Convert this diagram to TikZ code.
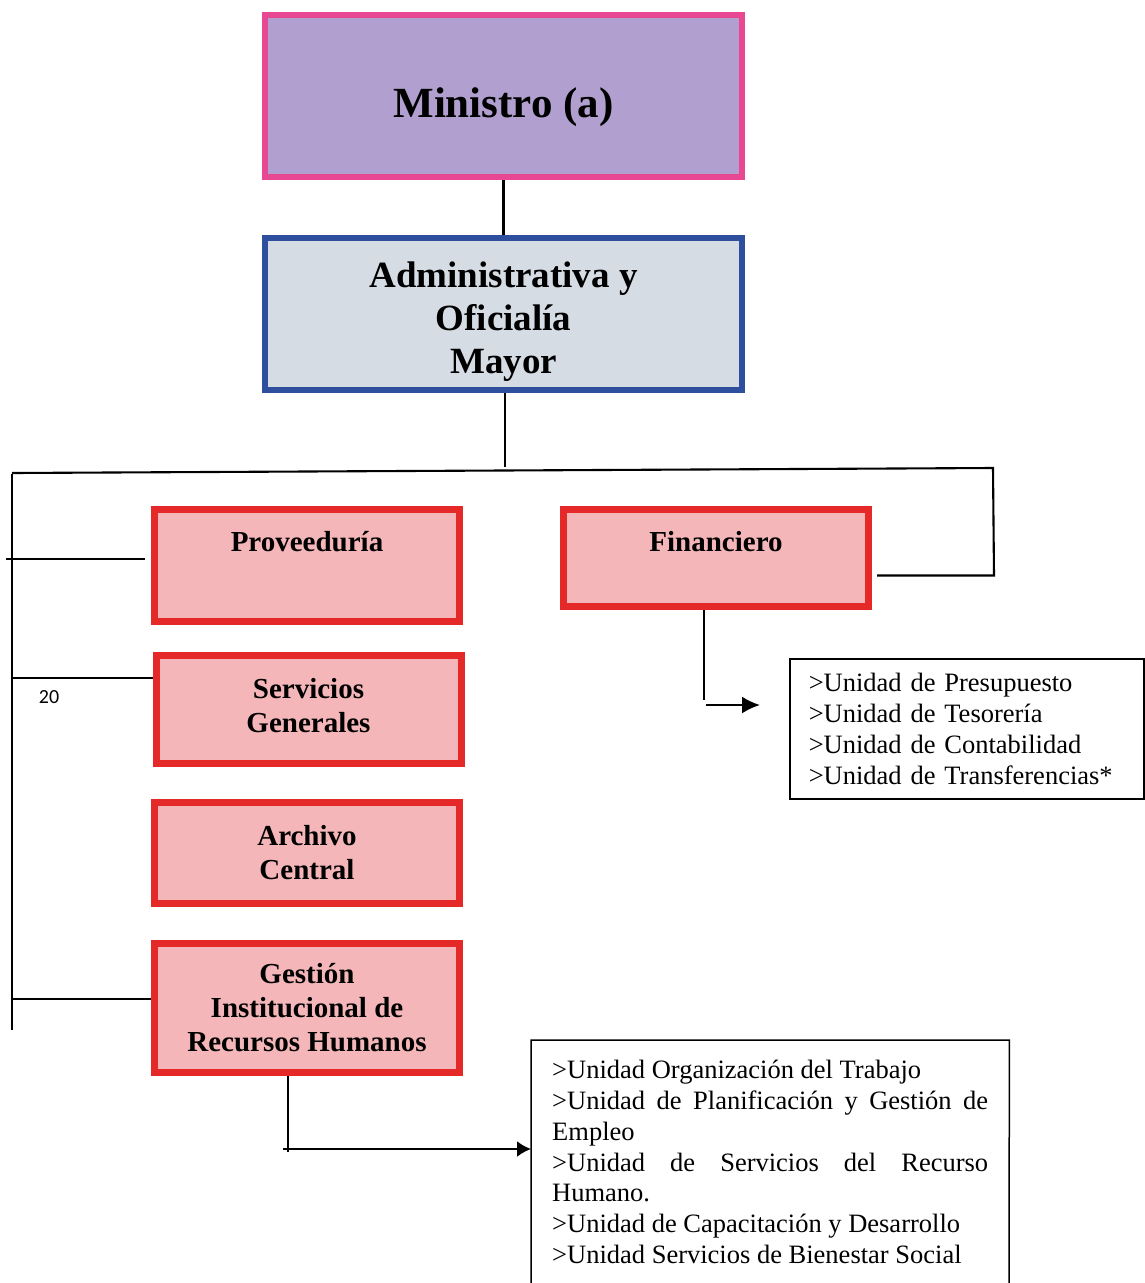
\documentclass[tikz,border=0pt]{standalone}
\usepackage{fontspec}
\setmainfont{Liberation Serif}
\newfontfamily\numfont{Carlito}
\usetikzlibrary{arrows.meta}
\definecolor{minfill}{RGB}{177,160,207}
\definecolor{minedge}{RGB}{232,72,146}
\definecolor{admfill}{RGB}{214,220,228}
\definecolor{admedge}{RGB}{46,78,158}
\definecolor{unitfill}{RGB}{244,182,184}
\definecolor{unitedge}{RGB}{229,41,41}

\begin{document}
\begin{tikzpicture}[x=1pt,y=-1pt,
  unitbox/.style={draw=unitedge, fill=unitfill, line width=7pt, inner sep=0pt, minimum width=305pt, align=center, font=\fontsize{29}{34}\selectfont\bfseries},
  listbox/.style={inner xsep=20pt, align=left, font=\fontsize{26.5}{31}\selectfont},
  link/.style={line width=2.1pt}]
  \useasboundingbox (0,0) rectangle (1144,1283);
  % head boxes
  \node[draw=minedge, fill=minfill, line width=6pt, inner sep=0pt, minimum width=477pt, text height=102.5pt, text depth=59.5pt, font=\fontsize{43}{49}\selectfont\bfseries] (min) at (503.5,96) {Ministro (a)};
  \node[draw=admedge, fill=admfill, line width=6pt, minimum width=477pt, minimum height=152pt, align=center, font=\fontsize{37}{43}\selectfont\bfseries] (adm) at (503.5,314) {\rule{0pt}{40pt}Administrativa y\\Oficialía\\Mayor};
  \draw[link] (min) -- (adm);
  % units
  \node[unitbox, text height=41.5pt, text depth=70.5pt] (prov) at (307,565.5) {Proveeduría};
  \node[unitbox, text height=41.5pt, text depth=55.5pt] (fin) at (716,558) {Financiero};
  \node[unitbox, minimum height=108pt] (serv) at (308.5,709.5) {Servicios\\Generales\rule[-8pt]{0pt}{0pt}};
  \node[unitbox, minimum height=101pt] (arch) at (307,853) {Archivo\\Central};
  \node[unitbox, minimum height=129pt] (girh) at (307,1008) {Gestión\\Institucional de\\Recursos Humanos};
  \node[font=\numfont\fontsize{20}{24}\selectfont] (pg) at (49,697) {20};
  % frame of lines
  \coordinate (barL) at (12,473);
  \coordinate (barR) at (993,468);
  \coordinate (barM) at (505,467);
  \coordinate (spineT) at (12,474);
  \coordinate (spineB) at (12,1030);
  \coordinate (finR) at (994,575.5);
  \coordinate (finE) at (877,575.5);
  \draw[link] (adm.south -| barM) -- (barM);
  \draw[link] (barL) -- (barR) -- (finR) -- (finE);
  \draw[link] (spineT) -- (spineB);
  \coordinate (brP) at (6,559);
  \coordinate (brS) at (12,678);
  \coordinate (brG) at (12,999);
  \draw[link, shorten >=6pt] (brP) -- (brP -| prov.west);
  \draw[link] (brS) -- (brS -| serv.west);
  \draw[link] (brG) -- (brG -| girh.west);
  % lists
  \node[listbox, draw, line width=1.5pt, anchor=north west, inner xsep=19pt, text width=316pt, minimum height=140pt] (finlist) at (789,658) {>Unidad de Presupuesto\\>Unidad de Tesorería\\>Unidad de Contabilidad\\>Unidad de Transferencias*};
  \node[listbox, inner xsep=21pt, inner ysep=20pt, anchor=north west, text width=436pt, minimum height=239pt, align=justify, font=\fontsize{26.5}{30.8}\selectfont] (glist) at (531,1040) {\hyphenpenalty=10000\exhyphenpenalty=10000 >Unidad Organización del Trabajo\\>Unidad de Planificación y Gestión de\linebreak Empleo\\>Unidad de Servicios del Recurso\linebreak Humano.\\>Unidad de Capacitación y Desarrollo\\>Unidad Servicios de Bienestar Social};
  \coordinate (glB) at (531,1283);
  \coordinate (glE) at (1009,1283);
  \draw[line width=1.5pt] (glB) -- (glist.north west) -- (glist.north east) -- (glE);
  % arrows
  \coordinate (finD) at (704,700);
  \coordinate (finA) at (706,705);
  \coordinate (finB) at (760,705);
  \draw[link] (finD |- fin.south) -- (finD);
  \draw[link, -{Latex[length=18pt,width=17pt]}] (finA) -- (finB);
  \coordinate (ghD) at (288,1152);
  \coordinate (ghA) at (283,1149);
  \draw[link] (ghD |- girh.south) -- (ghD);
  \draw[link, -{Latex[length=14pt,width=16pt]}] (ghA) -- (ghA -| glist.west);
\end{tikzpicture}
\end{document}
